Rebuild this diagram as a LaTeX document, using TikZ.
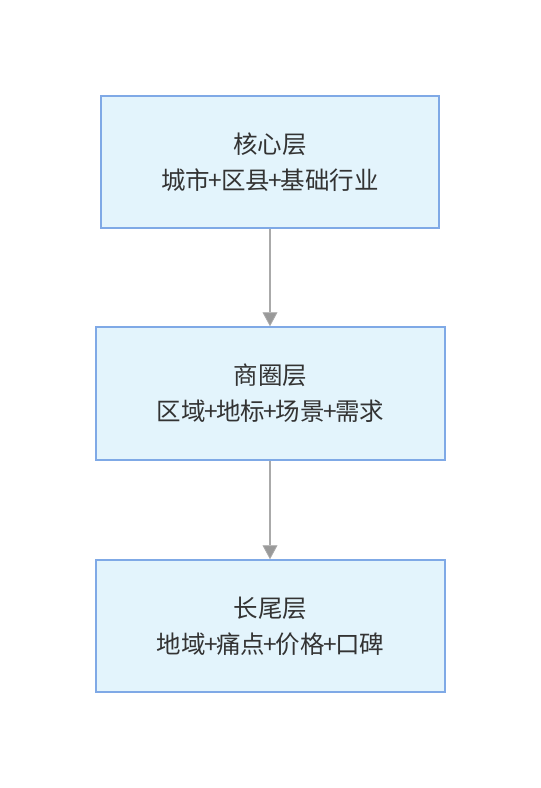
\documentclass[tikz,border=0pt]{standalone}
\usepackage{fontspec}
\setmainfont{Noto Sans CJK SC}
\usetikzlibrary{arrows.meta}
\definecolor{boxfill}{HTML}{E3F4FC}
\definecolor{boxline}{HTML}{7FA9E6}
\definecolor{txt}{HTML}{333333}
\definecolor{arrline}{HTML}{AAAAAA}
\definecolor{arrfill}{HTML}{999999}
\newcommand\pl{\kern-1.5pt+\kern-1.5pt}
\tikzset{
  layerbox/.style={draw=boxline, fill=boxfill, line width=1.5pt, rectangle, align=center,
    text=txt, font=\fontsize{24.5}{36}\selectfont, inner sep=0pt},
  flow/.style={draw=arrline, line width=2pt,
    -{Triangle[width=15pt,length=14pt,fill=arrfill,line width=0.8pt]}},
}
\begin{document}
\begin{tikzpicture}[x=1pt,y=1pt]
\useasboundingbox (0,0) rectangle (541,-788);
\node[layerbox, minimum width=338pt, minimum height=132pt] (core) at (270,-162) {核心层\\城市\pl 区县\pl 基础行业};
\node[layerbox, minimum width=349pt, minimum height=133pt] (shang) at (270.5,-393.5) {商圈层\\区域\pl 地标\pl 场景\pl 需求};
\node[layerbox, minimum width=349pt, minimum height=132pt] (tail) at (270.5,-626) {长尾层\\地域\pl 痛点\pl 价格\pl 口碑};
\draw[flow] (core.south -| 270,0) -- (shang.north -| 270,0);
\draw[flow] (shang.south -| 270,0) -- (tail.north -| 270,0);
\end{tikzpicture}
\end{document}
